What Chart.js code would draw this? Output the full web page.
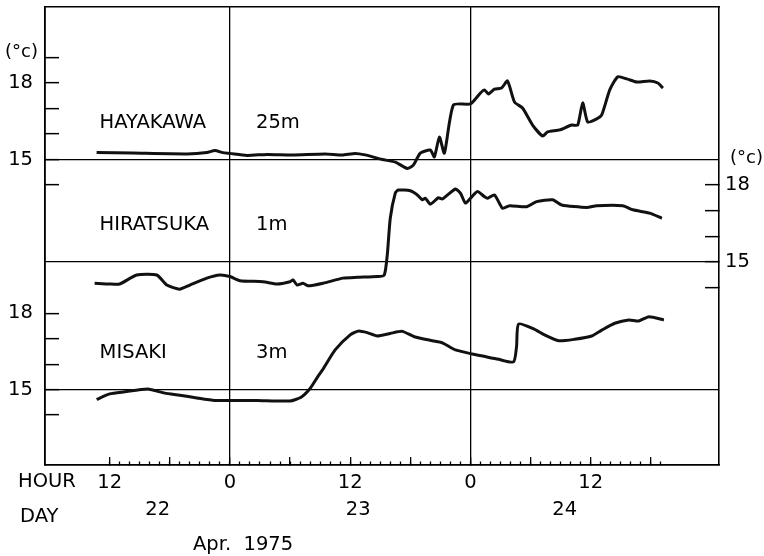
<!DOCTYPE html>
<html>
<head>
<meta charset="utf-8">
<script src="https://cdn.jsdelivr.net/npm/chart.js@4"></script>
<style>
  html, body { margin: 0; padding: 0; background: #fff; }
  canvas { display: block; }
</style>
</head>
<body>
<canvas id="tempChart" width="764" height="556"></canvas>
<script>
// Hours are counted from 00h, Apr 22 1975 (24 = 00h Apr 23, 48 = 00h Apr 24)
const hayakawaHours = [10.7, 14.3, 19.7, 21.7, 22.5, 23.3, 24.0, 25.7, 27.7, 30.2, 33.5, 35.2, 36.5, 37.5,
  39.2, 40.5, 41.7, 42.3, 43.0, 44.0, 44.4, 44.9, 45.4, 46.3, 48.0, 49.0, 49.4, 49.8, 50.4, 51.1, 51.7,
  52.4, 53.2, 54.2, 55.2, 55.7, 56.9, 58.1, 58.7, 59.2, 59.7, 60.6, 61.1, 61.9, 62.7, 63.6, 64.6, 65.9, 66.7, 67.2];
const hayakawaTemps = [15.27, 15.25, 15.22, 15.27, 15.35, 15.27, 15.24, 15.16, 15.2, 15.18, 15.22, 15.18, 15.24, 15.18,
  15.0, 14.9, 14.65, 14.78, 15.25, 15.37, 15.1, 15.88, 15.25, 17.14, 17.18, 17.61, 17.73, 17.57, 17.76, 17.8, 18.08,
  17.25, 17.02, 16.35, 15.92, 16.08, 16.16, 16.35, 16.35, 17.22, 16.47, 16.59, 16.75, 17.73, 18.24, 18.16, 18.04, 18.08, 18.0, 17.8];

const hiratsukaHours = [10.5, 12.0, 13.0, 14.7, 16.7, 17.7, 19.0, 20.0, 21.7, 23.0, 24.0, 25.0, 27.3, 28.7, 30.0,
  30.3, 30.7, 31.3, 31.8, 33.3, 35.3, 36.7, 38.7, 39.4, 39.7, 40.0, 40.5, 40.8, 42.0, 42.7, 43.2, 43.5, 44.0,
  44.8, 45.2, 46.5, 47.0, 47.5, 48.0, 48.7, 49.4, 49.7, 50.4, 51.2, 51.9, 53.6, 54.6, 56.2, 57.1, 59.6, 60.6,
  63.2, 64.2, 65.9, 67.1];
const hiratsukaTemps = [14.17, 14.14, 14.14, 14.49, 14.49, 14.10, 13.94, 14.10, 14.37, 14.49, 14.43, 14.27, 14.23, 14.14, 14.23,
  14.30, 14.10, 14.17, 14.07, 14.17, 14.37, 14.40, 14.43, 14.49, 15.27, 16.70, 17.68, 17.80, 17.77, 17.61, 17.42, 17.48, 17.25,
  17.50, 17.45, 17.84, 17.68, 17.29, 17.48, 17.74, 17.54, 17.48, 17.61, 17.09, 17.19, 17.15, 17.35, 17.42, 17.22, 17.12, 17.19,
  17.19, 17.03, 16.90, 16.70];

const misakiHours = [10.7, 12.0, 13.5, 15.8, 17.5, 19.0, 20.7, 22.5, 24.2, 26.7, 30.0, 31.1, 32.0, 32.8, 33.3,
  34.5, 36.0, 36.8, 37.7, 38.7, 40.0, 41.2, 42.4, 44.2, 45.2, 46.5, 48.2, 49.2, 50.8, 52.3, 52.6, 52.8, 54.4,
  55.4, 56.8, 58.4, 60.1, 61.1, 62.4, 63.8, 64.8, 65.8, 67.3];
const misakiTemps = [14.61, 14.83, 14.91, 15.02, 14.86, 14.78, 14.67, 14.57, 14.57, 14.57, 14.55, 14.70, 15.04, 15.53, 15.81,
  16.56, 17.15, 17.30, 17.24, 17.11, 17.21, 17.29, 17.08, 16.92, 16.84, 16.56, 16.40, 16.32, 16.19, 16.09, 16.69, 17.58, 17.37,
  17.15, 16.92, 16.98, 17.11, 17.34, 17.61, 17.74, 17.70, 17.87, 17.74];

// axis ticks and labels
const hourLabelValues = [12, 24, 36, 48, 60];
const hourLabels = ['12', '0', '12', '0', '12'];
const dayLabelValues = [16.8, 36.8, 57.4];
const dayLabels = ['22', '23', '24'];
const dividerHours = [24, 48];
const tempTickValues = [14, 15, 16, 17, 18, 19];
const tempTickValuesLow = [14, 15, 16, 17, 18];
const labelledTemps = [15, 18];
const baseTemp = 15;

const FONT = "'DejaVu Sans', sans-serif";
Chart.defaults.font.family = FONT;
Chart.defaults.font.size = 19.5;
Chart.defaults.color = '#000';

const X_MIN = 5.55, X_MAX = 72.8;

function toPoints(hours, temps) {
    return hours.map((h, i) => ({ x: h, y: temps[i] }));
}

function seriesStyle(data, axisId) {
    return {
        data: data,
        yAxisID: axisId,
        borderColor: '#111',
        borderWidth: 3,
        pointRadius: 0,
        tension: 0.2,
        fill: false
    };
}

// no extra room for edge labels, the frame sits where we put it
function noPadding(s) {
    s.paddingTop = 0;
    s.paddingBottom = 0;
    s.paddingLeft = 0;
    s.paddingRight = 0;
}

// temperature axis: inward ticks, only 15 and 18 labelled, line across at 15
function tempAxis(position, min, max, tickValues, weight, width, padding, mirror) {
    return {
        type: 'linear',
        position: position,
        min: min,
        max: max,
        weight: weight,
        afterBuildTicks: s => { s.ticks = tickValues.map(v => ({ value: v })); },
        afterFit: s => { s.width = width; noPadding(s); },
        ticks: {
            autoSkip: false,
            padding: padding,
            mirror: !!mirror,
            callback: v => labelledTemps.includes(v) ? String(v) : ''
        },
        grid: {
            drawOnChartArea: true,
            drawTicks: true,
            tickLength: -14,
            color: c => (c.tick && c.tick.value === baseTemp) ? '#000' : 'rgba(0,0,0,0)',
            lineWidth: 1.3,
            tickColor: '#000',
            tickWidth: 1.5
        },
        border: { display: true, color: '#000', width: 1.6 }
    };
}

function hourTicks(step) {
    const out = [];
    for (let h = 12; h <= 67; h += step) out.push({ value: h });
    return out;
}

const textPlugin = {
    id: 'textLabels',
    afterDraw(chart) {
        const { ctx, scales } = chart;
        const x = scales.x;
        ctx.save();
        ctx.fillStyle = '#000';
        ctx.font = '19.5px ' + FONT;
        ctx.textBaseline = 'middle';
        ctx.textAlign = 'left';

        // station names and depths, placed on each station's own axis
        [['HAYAKAWA', '25m', 'yHay'], ['HIRATSUKA', '1m', 'yHir'], ['MISAKI', '3m', 'yMis']].forEach(([name, depth, id]) => {
            const y = scales[id].getPixelForValue(16.45);
            ctx.fillText(name, x.getPixelForValue(11.0), y);
            ctx.fillText(depth, x.getPixelForValue(26.6), y);
        });

        ctx.font = '18px ' + FONT;
        ctx.fillText('(°c)', 5, 52);
        ctx.fillText('(°c)', 730, 158);

        ctx.font = '19.5px ' + FONT;
        ctx.fillText('HOUR', 18, 482);
        ctx.fillText('DAY', 20, 517);
        ctx.fillText('Apr.  1975', 193, 545);
        ctx.restore();
    }
};

new Chart(document.getElementById('tempChart'), {
    type: 'line',
    data: {
        datasets: [
            seriesStyle(toPoints(hayakawaHours, hayakawaTemps), 'yHay'),
            seriesStyle(toPoints(hiratsukaHours, hiratsukaTemps), 'yHir'),
            seriesStyle(toPoints(misakiHours, misakiTemps), 'yMis')
        ]
    },
    options: {
        responsive: false,
        animation: false,
        devicePixelRatio: 1,
        layout: { padding: { top: 7, left: 0, right: 0, bottom: 0 } },
        plugins: { legend: { display: false }, tooltip: { enabled: false } },
        scales: {
            x: {
                type: 'linear', position: 'bottom', min: X_MIN, max: X_MAX, weight: 0,
                afterBuildTicks: s => { s.ticks = hourTicks(1); },
                afterFit: s => { s.height = 0; noPadding(s); },
                ticks: { display: false, autoSkip: false },
                grid: { drawOnChartArea: false, tickLength: -3.5, tickColor: '#000', tickWidth: 1.3 },
                border: { display: true, color: '#000', width: 1.6 }
            },
            xHour: {
                type: 'linear', position: 'bottom', min: X_MIN, max: X_MAX, weight: 1,
                afterBuildTicks: s => { s.ticks = hourTicks(6); },
                afterFit: s => { s.height = 30; noPadding(s); },
                ticks: {
                    autoSkip: false, maxRotation: 0, padding: 14,
                    callback: v => {
                        const i = hourLabelValues.indexOf(v);
                        return i >= 0 ? hourLabels[i] : '';
                    }
                },
                grid: {
                    drawOnChartArea: true, tickLength: -8, tickColor: '#000', tickWidth: 1.3, lineWidth: 1.3,
                    color: c => (c.tick && dividerHours.includes(c.tick.value)) ? '#000' : 'rgba(0,0,0,0)'
                },
                border: { display: true, color: '#000', width: 1.6 }
            },
            xDay: {
                type: 'linear', position: 'bottom', min: X_MIN, max: X_MAX, weight: 2,
                afterBuildTicks: s => { s.ticks = dayLabelValues.map(v => ({ value: v })); },
                afterFit: s => { s.height = 61; noPadding(s); },
                ticks: {
                    autoSkip: false, maxRotation: 0, padding: 3,
                    callback: (v, i) => dayLabels[i]
                },
                grid: { display: false, drawTicks: false },
                border: { display: false }
            },
            xTop: {
                type: 'linear', position: 'top', min: X_MIN, max: X_MAX,
                afterFit: s => { s.height = 0; noPadding(s); },
                ticks: { display: false },
                grid: { display: false, drawTicks: false },
                border: { display: true, color: '#000', width: 1.6 }
            },
            yHay: tempAxis('left', 3.02, 20.98, tempTickValues, 1, 45, 26),
            // zero-width axis next to the frame: labels mirrored so they are not clipped away
            yMis: tempAxis('left', 12.03, 30.06, tempTickValuesLow, 0, 0, -37, true),
            yHir: tempAxis('right', 7.09, 24.93, tempTickValuesLow, 1, 45, 20)
        }
    },
    plugins: [textPlugin]
});
</script>
</body>
</html>
